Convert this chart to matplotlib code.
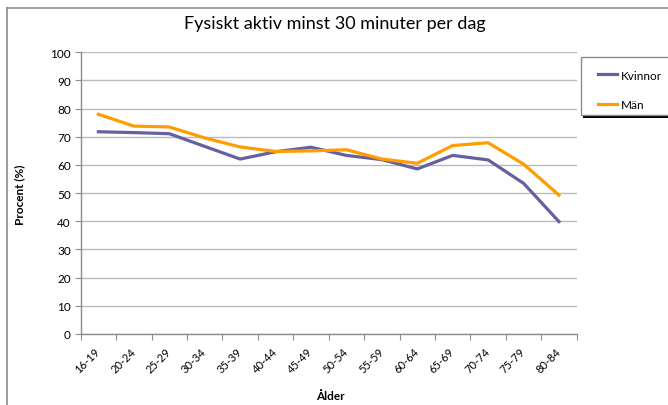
import matplotlib.pyplot as plt
import numpy as np
from matplotlib.lines import Line2D
from matplotlib.patches import Rectangle

plt.rcParams['font.family'] = ['Lato', 'DejaVu Sans']

# data
aldrar = ['16-19', '20-24', '25-29', '30-34', '35-39', '40-44', '45-49',
          '50-54', '55-59', '60-64', '65-69', '70-74', '75-79', '80-84']
kvinnor = [71.8, 71.5, 71.1, 66.6, 62.1, 64.7, 66.3,
           63.4, 61.9, 58.6, 63.4, 61.8, 53.5, 39.9]
man = [78.0, 73.8, 73.5, 69.6, 66.4, 64.8, 65.0,
       65.4, 62.1, 60.6, 66.9, 67.9, 60.3, 49.3]

lila = '#6560A0'
orange = '#FF9C00'
gra = '#8C8C8C'

fig = plt.figure(figsize=(6.68, 4.06), dpi=100)
ax = fig.add_axes([0.1208, 0.1749, 0.8633 - 0.1208, 0.8687 - 0.1749])

# chart-area border (only left and top visible in the crop)
fig.add_artist(Line2D([7 / 668, 7 / 668], [0, 1 - 9 / 406], transform=fig.transFigure,
                      color=gra, lw=1.2, zorder=-1))
fig.add_artist(Line2D([7 / 668, 1], [1 - 9 / 406, 1 - 9 / 406], transform=fig.transFigure,
                      color=gra, lw=1.2, zorder=-1))

x = np.arange(len(aldrar))
ax.plot(x, kvinnor, color=lila, lw=2.3, label='Kvinnor', solid_joinstyle='round')
ax.plot(x, man, color=orange, lw=2.3, label='Män', solid_joinstyle='round')

ax.set_xlim(-0.5, len(aldrar) - 0.5)
ax.set_ylim(0, 100)
ax.set_yticks(np.arange(0, 101, 10))
ax.set_xticks(np.arange(-0.5, len(aldrar), 1.0))
ax.set_xticklabels([])
ax.set_xticks(x, minor=True)
ax.set_xticklabels(aldrar, minor=True, rotation=45, ha='right', va='center',
                   rotation_mode='anchor', fontsize=8)
ax.tick_params(axis='x', which='minor', length=0, pad=11)
ax.tick_params(axis='x', which='major', length=4, color=gra, direction='out')
ax.tick_params(axis='y', length=4, color=gra, labelsize=8.5, pad=3)

ax.grid(axis='y', color='#BBBBBB', lw=1.0)
ax.set_axisbelow(True)
for s in ['top', 'right']:
    ax.spines[s].set_visible(False)
for s in ['left', 'bottom']:
    ax.spines[s].set_color(gra)
    ax.spines[s].set_linewidth(1.0)

fig.text(335 / 668, 1 - 24 / 406, 'Fysiskt aktiv minst 30 minuter per dag',
         ha='center', va='center', fontsize=13)
fig.text(20 / 668, 1 - 195 / 406, 'Procent (%)', rotation=90, ha='center', va='center',
         fontsize=8.5, fontweight='bold')
fig.text(330 / 668, 1 - 397 / 406, 'Ålder', ha='center', va='center',
         fontsize=8.5, fontweight='bold')

# legend box with shadow, as in the reference
fig.add_artist(Rectangle((583 / 668, 1 - 118.5 / 406), 90 / 668, 60 / 406,
                         transform=fig.transFigure, facecolor='black', edgecolor='none',
                         zorder=-1))
fig.add_artist(Rectangle((581 / 668, 1 - 116 / 406), 90 / 668, 58 / 406,
                         transform=fig.transFigure, facecolor='white', edgecolor=gra, lw=1.0,
                         zorder=-1))
leg = ax.legend(loc='upper left', bbox_to_anchor=(587 / 668, 1 - 60 / 406),
                bbox_transform=fig.transFigure, frameon=False, fontsize=8.5,
                handlelength=1.6, labelspacing=1.55, handletextpad=0.35)

fig.savefig('out.png', dpi=100)
